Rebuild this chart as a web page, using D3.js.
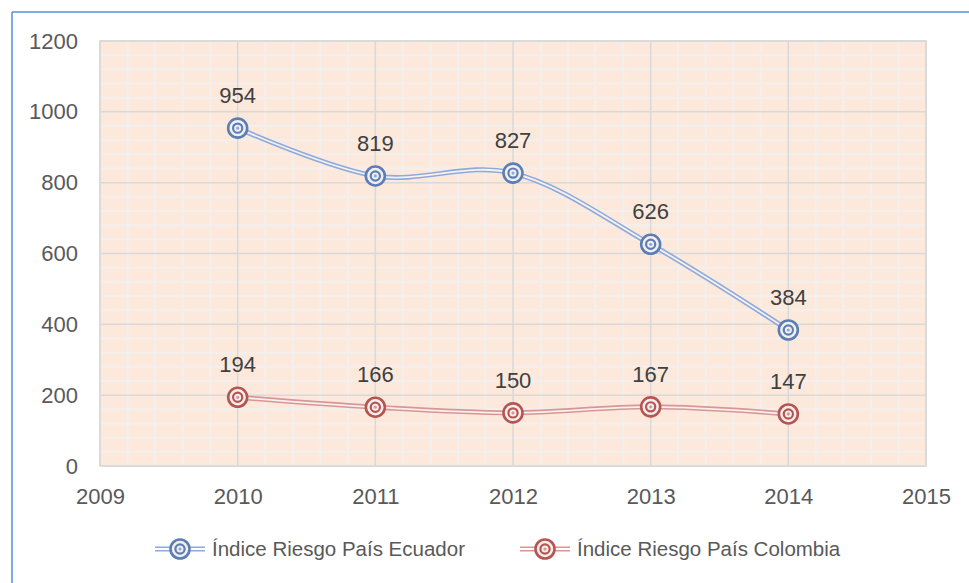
<!DOCTYPE html>
<html><head><meta charset="utf-8">
<script src="https://cdn.jsdelivr.net/npm/d3@7"></script>
<style>body{margin:0;background:#fff;} text{font-family:"Liberation Sans",Arial,sans-serif;}</style>
</head><body>
<svg id="c" width="969" height="583"></svg>
<script>
const years = [2010, 2011, 2012, 2013, 2014];
const ecuador = [954, 819, 827, 626, 384];
const colombia = [194, 166, 150, 167, 147];
const xTicks = [2009, 2010, 2011, 2012, 2013, 2014, 2015];
const yTicks = [0, 200, 400, 600, 800, 1000, 1200];
const seriesNames = ["Índice Riesgo País Ecuador", "Índice Riesgo País Colombia"];

const svg = d3.select("#c");
const L = 100, R = 926, T = 41, B = 466;
const x = d3.scaleLinear().domain([2009, 2015]).range([L, R]);
const y = d3.scaleLinear().domain([0, 1200]).range([B, T]);

// frame
svg.append("line").attr("x1",12).attr("y1",12).attr("x2",969).attr("y2",12).attr("stroke","#5b8fd6").attr("stroke-width",1.5);
svg.append("line").attr("x1",12).attr("y1",12).attr("x2",12).attr("y2",583).attr("stroke","#5b8fd6").attr("stroke-width",1.5);

// plot bg
svg.append("rect").attr("x",L).attr("y",T).attr("width",R-L).attr("height",B-T).attr("fill","#fce9dc");

// minor grid
const g = svg.append("g");
for (let v = 0; v <= 1200; v += 40) {
  if (v % 200 !== 0) g.append("line").attr("x1",L).attr("x2",R).attr("y1",y(v)).attr("y2",y(v)).attr("stroke","#f3efed").attr("stroke-width",2);
}
for (let i = 0; i <= 30; i++) {
  const yr = 2009 + i/5;
  if (i % 5 !== 0) g.append("line").attr("y1",T).attr("y2",B).attr("x1",x(yr)).attr("x2",x(yr)).attr("stroke","#f3efed").attr("stroke-width",2);
}
// major grid
yTicks.forEach(v => g.append("line").attr("x1",L).attr("x2",R).attr("y1",y(v)).attr("y2",y(v)).attr("stroke","#d9d9d9").attr("stroke-width",1.5));
xTicks.forEach(v => g.append("line").attr("y1",T).attr("y2",B).attr("x1",x(v)).attr("x2",x(v)).attr("stroke","#d9d9d9").attr("stroke-width",1.5));
svg.append("rect").attr("x",L).attr("y",T).attr("width",R-L).attr("height",B-T).attr("fill","none").attr("stroke","#d9d9d9").attr("stroke-width",1.5);

// axes labels
const yAxis = d3.axisLeft(y).tickValues(yTicks).tickFormat(d3.format("d")).tickSize(0).tickPadding(22);
const ya = svg.append("g").attr("transform",`translate(${L},0)`).call(yAxis);
ya.select(".domain").remove();
ya.selectAll("text").attr("font-size",22).attr("fill","#595959").attr("font-family","Liberation Sans, Arial, sans-serif");
const xAxis = d3.axisBottom(x).tickValues(xTicks).tickFormat(d3.format("d")).tickSize(0).tickPadding(22);
const xa = svg.append("g").attr("transform",`translate(0,${B})`).call(xAxis);
xa.select(".domain").remove();
xa.selectAll("text").attr("font-size",22).attr("fill","#595959").attr("font-family","Liberation Sans, Arial, sans-serif");

const styles = [
  {dark:"#5b7fb5", line:"#8eaadb", light:"#dce6f4"},
  {dark:"#b85450", line:"#d99694", light:"#f6dcdb"}
];
const line = d3.line().x((d,i)=>x(years[i])).y(d=>y(d)).curve(d3.curveCardinal.tension(0));

function marker(sel, cx, cy, st) {
  sel.append("circle").attr("cx",cx).attr("cy",cy).attr("r",9.5).attr("fill","#f3efef").attr("stroke",st.dark).attr("stroke-width",2.6);
  sel.append("circle").attr("cx",cx).attr("cy",cy).attr("r",4.6).attr("fill","#f3efef").attr("stroke",st.dark).attr("stroke-width",2.2);
  sel.append("circle").attr("cx",cx).attr("cy",cy).attr("r",1.6).attr("fill",st.line);
}

[ecuador, colombia].forEach((data, si) => {
  const st = styles[si];
  svg.append("path").attr("d", line(data)).attr("fill","none").attr("stroke",st.line).attr("stroke-width",5);
  svg.append("path").attr("d", line(data)).attr("fill","none").attr("stroke","#f7f1f0").attr("stroke-width",1.8);
  const mg = svg.append("g");
  data.forEach((v,i)=> marker(mg, x(years[i]), y(v), st));
  data.forEach((v,i)=> svg.append("text").attr("x",x(years[i])).attr("y",y(v)-33).attr("dy","0.35em")
    .attr("text-anchor","middle").attr("font-size",22).attr("fill","#404040").text(v));
});

// legend
const legX = [155, 520];
seriesNames.forEach((name, si) => {
  const st = styles[si];
  const lx = legX[si], ly = 549;
  svg.append("line").attr("x1",lx).attr("x2",lx+50).attr("y1",ly).attr("y2",ly).attr("stroke",st.line).attr("stroke-width",5);
  svg.append("line").attr("x1",lx).attr("x2",lx+50).attr("y1",ly).attr("y2",ly).attr("stroke","#ffffff").attr("stroke-width",1.8);
  marker(svg, lx+25, ly, st);
  svg.append("text").attr("x",lx+57).attr("y",ly).attr("dy","0.35em").attr("font-size",20.5).attr("fill","#595959").text(name);
});
</script>
</body></html>
